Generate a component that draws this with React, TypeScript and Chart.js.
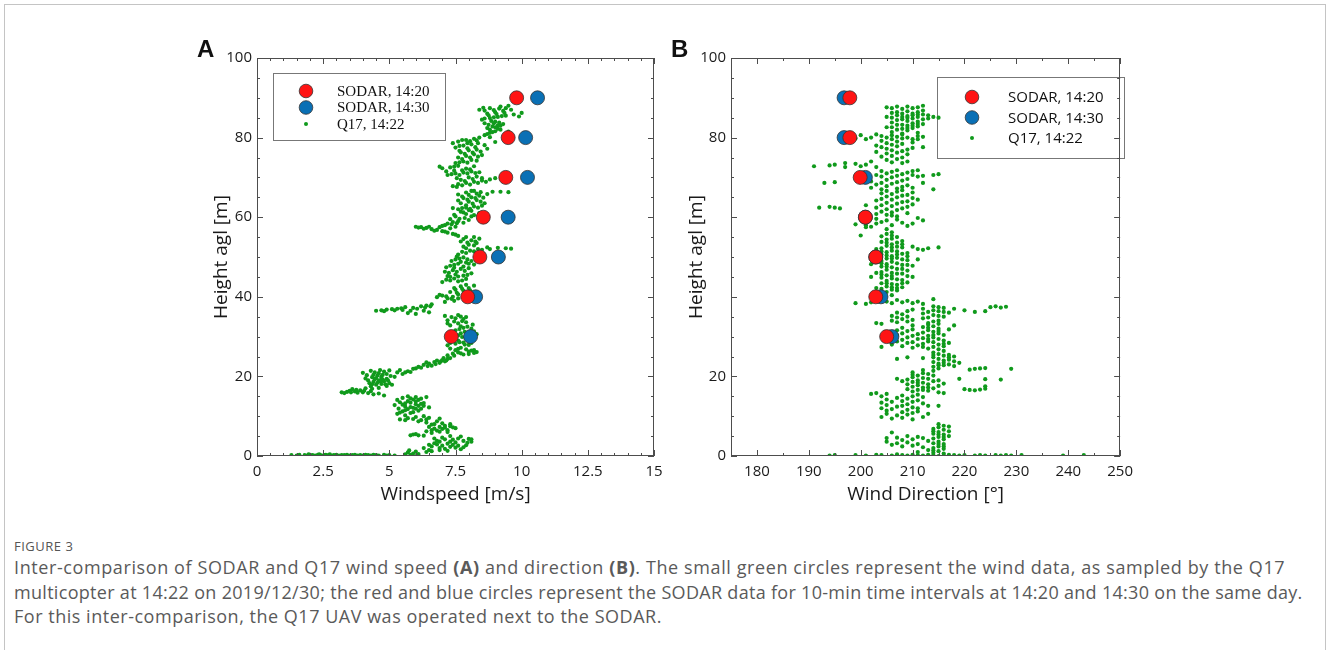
import React, { useEffect, useRef } from 'react';
import { Chart, registerables } from 'chart.js';

Chart.register(...registerables);

// SODAR 10-min averages at fixed range gates (m agl)
const sodarHeights = [30, 40, 50, 60, 70, 80, 90];
const sodarSpeed1420 = [7.34, 7.96, 8.42, 8.55, 9.4, 9.49, 9.81];
const sodarSpeed1430 = [8.07, 8.26, 9.12, 9.49, 10.22, 10.15, 10.6];
const sodarDir1420 = [205.0, 202.9, 202.9, 200.9, 199.9, 197.9, 197.9];
const sodarDir1430 = [206.0, 203.9, 202.9, 200.9, 200.9, 196.8, 196.8];

// Q17 multicopter samples: [wind speed m/s, height m]
const q17Speed: [number, number][] = [
  [1.3, 0.2], [1.5, 0.1], [1.6, 0.3], [1.8, 0.2], [1.9, 0.1], [2.0, 0.3], [2.1, 0.2], [2.2, 0.1], [2.3, 0.3],
  [2.4, 0.2], [2.5, 0.1], [2.6, 0.3], [2.7, 0.2], [2.8, 0.1], [2.9, 0.2], [3.0, 0.3], [3.1, 0.1], [3.2, 0.2],
  [3.4, 0.3], [3.5, 0.1], [3.6, 0.2], [3.7, 0.3], [3.8, 0.1], [3.9, 0.2], [4.0, 0.1], [4.1, 0.3], [4.2, 0.2],
  [4.3, 0.1], [4.5, 0.2], [4.6, 0.1], [4.8, 0.3], [5.0, 0.2], [5.2, 0.1],
  [1.95, 0.4], [2.15, 0.0], [2.35, 0.4], [2.55, 0.2], [2.75, 0.4], [2.95, 0.1], [3.3, 0.2], [4.4, 0.3], [4.9, 0.1],
  [5.6, 0.4], [5.7, 0.9], [5.8, 0.3], [5.9, 0.6], [6.0, 1.1], [6.1, 0.5], [5.75, 1.4], [6.05, 0.2],
  [6.5, 1.5], [6.6, 2.4], [6.8, 2.9], [6.9, 2.0], [7.0, 2.6], [7.1, 1.8], [7.3, 2.3], [7.5, 2.1], [7.6, 2.6],
  [7.8, 2.2], [6.7, 3.2], [6.9, 3.6], [7.2, 3.1], [7.4, 4.1], [7.6, 4.4], [7.8, 3.8], [8.0, 4.3], [8.1, 4.2],
  [7.0, 4.6], [7.3, 5.0], [6.4, 1.0], [6.3, 2.0], [7.5, 3.4], [7.7, 1.7],
  [6.6, 1.2], [6.9, 1.5], [7.2, 1.3], [7.4, 2.8], [7.9, 2.7], [6.8, 3.8], [7.1, 4.2], [7.7, 4.9], [6.5, 2.8],
  [7.3, 3.6], [7.95, 3.3], [6.7, 4.4], [8.1, 3.6],
  [5.8, 5.2], [5.9, 5.4], [6.1, 5.2], [6.3, 5.1], [6.6, 5.8], [6.8, 6.4], [7.0, 6.8], [7.2, 6.5], [6.9, 7.3],
  [7.1, 7.6], [7.3, 8.0], [7.4, 7.2], [6.6, 7.9], [6.4, 8.4], [6.8, 8.7], [6.2, 9.0], [5.9, 9.3], [5.6, 9.0],
  [5.4, 9.2], [6.5, 9.6], [6.3, 10.0], [6.0, 9.8], [7.2, 6.0], [6.7, 6.9], [7.5, 7.0],
  [6.0, 5.5], [6.4, 6.2], [6.6, 6.5], [6.9, 6.1], [7.1, 7.1], [6.5, 7.3], [7.0, 8.2], [6.7, 8.0], [6.1, 8.7],
  [5.7, 9.5], [6.4, 9.2], [6.9, 9.4], [7.3, 7.5],
  [5.3, 10.6], [5.5, 11.2], [5.7, 11.8], [5.6, 12.4], [5.9, 12.1], [6.1, 11.4], [5.8, 10.8], [6.0, 13.0],
  [5.4, 13.5], [5.7, 13.8], [5.9, 14.2], [6.2, 14.4], [6.0, 14.8], [5.5, 14.6], [6.3, 13.3], [5.2, 12.8],
  [6.4, 14.8], [5.6, 10.2], [6.1, 12.6], [5.8, 13.4], [6.2, 11.9], [5.35, 11.9], [6.5, 12.2],
  [5.4, 10.9], [5.6, 11.5], [5.9, 11.0], [6.0, 11.9], [5.5, 12.9], [5.8, 12.3], [6.2, 13.1], [5.6, 13.2],
  [6.0, 13.7], [5.3, 14.1], [5.8, 14.5], [6.1, 14.1], [6.3, 12.6], [5.7, 15.0],
  [3.2, 16.0], [3.4, 16.1], [3.5, 16.4], [3.7, 16.2], [3.8, 15.9], [3.9, 16.5], [4.0, 16.0], [4.2, 15.8],
  [4.3, 16.3], [4.1, 17.0], [3.6, 16.8], [4.4, 15.5], [4.8, 15.2],
  [3.3, 15.8], [3.55, 16.0], [3.75, 16.6], [4.05, 16.4], [4.35, 16.9], [4.6, 15.7],
  [4.3, 17.5], [4.5, 17.9], [4.7, 18.1], [4.9, 17.6], [4.4, 18.6], [4.6, 19.0], [4.8, 18.8], [5.0, 18.3],
  [4.5, 19.6], [4.7, 20.0], [4.9, 19.4], [4.2, 19.0], [4.4, 20.4], [4.6, 20.8], [4.8, 21.2], [4.3, 21.4],
  [5.1, 17.9], [4.0, 20.9], [4.9, 20.6], [5.0, 21.5], [4.6, 17.1], [4.25, 18.3], [4.75, 19.2], [5.2, 19.9],
  [4.35, 18.0], [4.55, 18.4], [4.65, 18.8], [4.85, 18.0], [4.45, 19.3], [4.55, 20.2], [4.7, 19.6], [4.95, 19.0],
  [4.35, 19.8], [4.15, 20.3], [4.75, 20.4], [5.05, 20.1], [4.45, 21.0], [4.65, 21.6], [4.1, 19.5],
  [5.3, 21.0], [5.5, 20.6], [5.7, 21.3], [5.9, 21.9], [6.1, 22.4], [5.4, 21.6], [5.8, 21.1], [6.2, 22.2],
  [5.6, 21.0], [6.0, 22.0], [6.45, 22.6], [6.75, 23.1], [6.95, 23.8], [7.15, 24.0], [7.05, 24.6],
  [6.3, 22.9], [6.5, 23.2], [6.7, 23.6], [6.9, 23.4], [7.0, 24.1], [7.2, 24.4], [6.6, 22.7], [6.8, 24.0],
  [7.1, 23.8], [7.3, 24.6], [6.4, 23.5],
  [7.2, 25.3], [7.4, 25.7], [7.6, 26.0], [7.8, 25.5], [8.0, 26.2], [8.2, 25.9], [8.3, 26.1], [7.5, 26.6],
  [7.9, 26.8], [8.1, 26.5], [7.3, 27.0], [7.7, 27.2],
  [7.45, 25.2], [7.7, 25.8], [8.0, 25.6], [8.2, 26.6], [7.6, 26.9],
  [7.2, 27.8], [7.5, 28.2], [7.8, 28.5], [8.0, 27.9], [7.6, 29.0], [7.9, 29.4], [8.2, 29.8], [7.4, 30.4],
  [7.7, 30.8], [8.0, 31.0], [8.3, 30.6], [7.5, 31.6], [7.8, 32.2], [8.1, 32.0], [7.3, 32.8], [7.6, 33.3],
  [7.9, 33.6], [7.2, 34.1], [7.5, 34.6], [7.8, 34.4], [7.1, 35.2], [7.7, 35.0], [8.0, 28.9], [7.35, 29.3],
  [7.95, 30.2], [7.65, 31.9], [8.15, 33.0],
  [7.3, 28.4], [7.65, 28.6], [7.85, 28.0], [8.1, 28.4], [7.45, 29.6], [7.75, 29.9], [8.05, 29.6], [7.6, 30.3],
  [7.85, 31.2], [8.2, 31.3], [7.4, 31.2], [7.7, 32.6], [7.95, 32.5], [7.45, 33.8], [7.75, 33.9], [7.35, 34.9],
  [7.6, 35.4], [7.9, 34.9], [7.2, 33.3],
  [4.5, 36.5], [4.7, 36.6], [4.9, 36.8], [5.1, 36.9], [5.3, 37.0], [5.5, 36.7], [5.7, 35.9], [5.9, 37.2],
  [6.0, 35.7], [6.2, 37.6], [6.4, 37.8], [6.5, 36.1], [6.6, 38.1], [5.6, 37.4], [6.3, 36.5],
  [4.8, 36.4], [5.2, 36.6], [5.45, 37.1], [5.8, 36.5], [6.05, 37.0], [6.35, 37.3], [6.55, 37.6],
  [6.8, 39.9], [7.0, 40.3], [7.2, 39.6], [7.4, 40.0], [7.6, 40.6], [7.3, 41.2], [7.5, 41.8], [7.8, 41.5],
  [8.0, 42.2], [8.2, 42.8], [7.7, 42.6], [7.1, 38.7], [7.9, 39.0], [8.4, 40.3], [7.45, 39.0],
  [6.9, 40.5], [7.15, 40.1], [7.35, 39.5], [7.6, 39.6], [7.8, 40.2], [7.55, 41.0], [7.9, 41.0], [7.45, 42.2],
  [7.75, 42.0], [8.05, 41.6], [7.9, 43.0],
  [7.0, 43.7], [7.3, 44.1], [7.6, 43.9], [7.9, 44.5], [7.2, 45.2], [7.5, 45.6], [7.8, 45.3], [8.1, 45.9],
  [7.4, 46.7], [7.7, 47.0], [8.0, 47.2], [7.3, 47.8], [7.6, 48.3], [7.9, 48.6], [8.1, 49.0], [7.5, 49.4],
  [7.8, 49.9], [7.1, 46.3], [8.2, 48.1],
  [7.15, 44.3], [7.45, 44.6], [7.75, 44.1], [7.3, 45.0], [7.6, 45.1], [7.95, 45.5], [7.25, 46.0], [7.55, 46.3],
  [7.85, 46.5], [7.45, 47.3], [7.8, 47.6], [7.15, 47.4], [7.45, 48.0], [7.7, 48.8], [8.0, 48.3], [7.35, 49.0],
  [7.65, 49.6], [7.95, 49.4], [7.55, 50.1],
  [7.6, 50.6], [7.9, 51.0], [8.2, 51.4], [8.5, 51.8], [8.8, 52.0], [9.1, 52.3], [9.4, 52.2], [9.6, 52.1],
  [7.8, 52.6], [8.0, 53.1], [8.3, 53.5], [7.7, 53.9], [8.1, 54.2], [8.4, 54.6], [7.9, 55.0], [8.7, 52.4],
  [7.75, 51.3], [8.05, 51.6], [8.35, 52.0], [7.9, 52.2], [8.2, 52.9], [7.95, 53.6], [8.25, 53.9], [7.8, 54.5],
  [8.2, 55.0],
  [7.6, 55.3], [7.4, 55.8], [7.2, 56.1], [7.0, 56.5], [6.8, 56.8], [6.6, 57.0], [6.4, 57.3], [6.2, 57.5],
  [6.0, 57.6], [6.1, 57.4], [6.9, 57.5], [7.3, 57.2], [7.1, 58.0],
  [7.5, 55.6], [7.1, 56.4], [6.7, 56.6], [6.3, 57.1], [6.5, 57.6], [7.0, 57.8], [7.5, 57.6],
  [7.2, 58.4], [7.4, 58.8], [7.6, 59.0], [7.8, 58.6], [7.3, 59.5], [8.0, 59.3], [7.5, 60.2], [7.9, 60.8],
  [8.2, 60.5], [7.7, 61.4], [8.4, 61.0],
  [7.35, 58.2], [7.55, 58.5], [7.65, 59.6], [7.85, 59.8], [8.1, 60.2], [7.45, 60.6], [7.8, 61.2], [8.1, 61.6],
  [7.6, 62.0], [7.9, 62.4], [8.2, 62.7], [8.5, 62.9], [7.7, 63.5], [8.0, 63.9], [8.3, 64.3], [7.8, 64.8],
  [8.1, 65.0], [8.4, 65.4], [8.7, 65.8], [7.6, 65.7], [7.9, 66.2], [8.2, 66.6], [8.9, 66.4], [9.5, 66.3],
  [7.4, 62.3], [8.6, 63.5], [8.0, 61.8],
  [7.75, 62.3], [8.05, 62.1], [8.35, 62.4], [7.9, 63.0], [8.15, 63.4], [8.45, 63.9], [7.6, 64.2], [7.95, 64.4],
  [8.25, 64.8], [8.55, 64.9], [7.75, 65.2], [8.0, 65.6], [8.3, 65.9], [8.1, 66.6], [8.45, 66.3], [9.2, 66.4],
  [7.4, 67.8], [7.6, 68.3], [7.9, 68.6], [8.2, 68.9], [8.5, 69.2], [8.8, 69.5], [9.0, 69.8], [7.7, 69.4],
  [8.0, 70.0], [8.3, 70.2], [9.3, 70.3],
  [7.55, 67.6], [7.75, 68.0], [8.05, 68.2], [8.35, 68.6], [8.65, 68.9], [7.85, 69.1], [8.15, 69.6], [8.5, 69.8],
  [7.55, 69.8],
  [7.2, 70.6], [7.5, 71.0], [7.8, 71.2], [8.1, 71.5], [8.4, 71.3], [7.0, 72.3], [6.9, 72.7], [7.3, 72.5],
  [7.6, 72.9], [7.9, 72.2], [8.2, 72.8],
  [7.35, 70.8], [7.65, 70.6], [7.95, 71.0], [8.25, 71.1], [7.45, 71.7], [7.75, 71.8], [8.05, 72.0], [7.15, 71.5],
  [7.45, 72.7],
  [7.5, 73.6], [7.8, 74.0], [8.1, 74.4], [7.6, 75.0], [7.9, 75.4], [8.2, 75.8], [8.5, 75.6], [7.7, 76.3],
  [8.0, 76.8], [8.3, 77.0], [7.5, 77.5], [7.8, 78.0], [8.1, 78.3], [8.6, 78.1], [7.6, 79.0], [7.9, 79.4],
  [8.2, 79.7], [8.4, 80.0], [8.8, 80.1], [9.0, 78.9], [8.7, 77.2], [7.4, 78.6],
  [7.65, 73.8], [7.95, 73.7], [8.3, 74.2], [7.75, 74.6], [8.05, 75.0], [8.35, 75.2], [7.85, 75.9], [8.15, 76.2],
  [8.45, 76.5], [7.65, 76.7], [7.95, 77.3], [8.25, 77.6], [7.65, 77.9], [7.95, 78.6], [8.35, 78.6], [7.75, 79.4],
  [8.05, 79.1], [8.3, 79.3],
  [8.6, 80.6], [8.8, 81.2], [9.0, 81.6], [9.2, 82.0], [8.7, 82.4], [8.9, 82.8], [9.1, 83.1], [9.3, 83.4],
  [8.6, 83.6], [9.0, 84.0], [9.4, 80.6], [9.5, 81.5],
  [8.7, 80.9], [8.9, 81.4], [9.1, 82.2], [8.8, 82.0], [9.0, 82.6], [9.2, 83.0], [8.75, 83.2], [8.95, 83.6],
  [9.15, 83.8], [8.85, 84.2],
  [8.5, 84.5], [8.8, 84.9], [9.1, 85.2], [9.4, 85.5], [9.7, 85.8], [9.9, 85.3], [8.7, 86.0], [9.0, 86.4],
  [9.3, 86.7], [9.6, 87.0], [8.4, 87.0], [8.8, 87.4], [9.2, 87.8], [9.5, 88.0], [8.6, 86.8], [10.0, 86.2],
  [8.6, 84.8], [8.95, 85.1], [9.25, 85.4], [8.75, 85.6], [9.05, 85.9], [9.35, 86.2], [8.95, 86.9], [9.15, 87.3],
  [9.4, 87.4], [8.55, 87.5],
];

// Q17 multicopter samples: [wind direction deg, height m]
const q17Direction: [number, number][] = [
  [194, 0.1], [195, 0.2], [199, 0.2], [201, 0.1], [203, 0.3], [204, 0.2], [206, 0.1], [207, 0.4], [208, 0.2],
  [209, 0.1], [210, 0.3], [211, 0.2], [212, 0.1], [213, 0.3], [214, 0.2], [216, 0.1], [217, 0.3], [218, 0.2],
  [219, 0.1], [220, 0.2], [222, 0.1], [223, 0.2], [224, 0.1], [226, 0.2], [227, 0.1], [228, 0.2], [229, 0.1],
  [231, 0.2], [239, 0.1], [243, 0.2],
  [214, 0.8], [214, 2.0], [214, 3.2], [214, 4.4], [214, 5.6], [214, 6.8],
  [215, 1.2], [215, 2.4], [215, 3.6], [215, 4.8], [215, 6.0], [215, 7.2], [215, 8.0],
  [216, 0.6], [216, 1.8], [216, 3.0], [216, 4.2], [216, 5.4], [216, 6.6], [216, 7.6],
  [217, 5.0], [217, 6.2], [217, 7.4], [213, 1.5], [213, 3.8], [212, 4.5], [212, 2.2],
  [215, 0.0], [214, 1.4], [215, 3.0], [216, 2.4], [215, 5.4], [214, 6.2], [216, 4.8],
  [211, 1.0], [211, 3.0], [211, 4.8], [210, 2.6], [210, 4.2], [209, 3.4], [209, 5.0], [208, 2.4], [208, 4.0],
  [207, 3.2], [207, 4.6], [206, 2.8], [205, 3.6], [205, 4.5], [206, 5.9],
  [204, 9.8], [204, 12.0], [204, 13.4], [204, 15.0],
  [205, 10.6], [205, 11.4], [205, 12.8], [205, 14.2], [205, 15.6],
  [206, 9.4], [206, 11.8], [206, 13.6],
  [207, 10.2], [207, 12.4], [207, 14.6],
  [208, 9.6], [208, 11.0], [208, 12.6], [208, 13.8], [208, 15.2],
  [209, 10.4], [209, 11.6], [209, 13.0], [209, 14.4],
  [210, 9.2], [210, 10.8], [210, 12.2], [210, 13.6], [210, 15.0],
  [211, 11.2], [211, 12.0], [211, 14.0], [211, 15.4],
  [212, 9.8], [212, 13.2], [212, 14.8], [213, 12.6], [213, 10.6], [215, 12.6],
  [202, 15.6], [203, 15.8],
  [209, 16.8], [209, 18.0], [209, 19.2],
  [210, 16.2], [210, 17.4], [210, 18.6], [210, 19.8], [210, 21.0],
  [211, 16.6], [211, 17.8], [211, 19.0], [211, 20.2],
  [212, 17.2], [212, 18.4], [212, 19.6], [212, 20.8], [212, 21.6],
  [213, 16.4], [213, 18.0], [213, 19.4], [213, 20.6],
  [214, 17.0], [214, 18.8], [214, 20.2], [214, 21.4],
  [215, 16.0], [215, 17.6], [215, 19.0], [216, 15.8], [216, 18.2],
  [211, 18.4], [212, 16.6], [213, 17.2], [210, 20.4],
  [207, 19.4], [208, 18.8], [219, 19.4],
  [220, 16.8], [221, 16.6], [222, 16.5], [223, 16.7], [224, 16.9], [224, 17.5],
  [224, 19.3], [227, 19.2],
  [221, 21.7], [222, 21.9], [223, 22.0], [224, 22.1], [229, 21.9],
  [214, 22.4], [214, 23.6], [214, 24.8], [214, 26.0],
  [215, 22.0], [215, 23.2], [215, 24.4], [215, 25.6],
  [216, 22.8], [216, 24.0], [216, 25.2], [216, 26.4],
  [217, 23.0], [217, 24.2], [217, 25.4],
  [218, 22.6], [218, 23.8], [218, 25.0], [219, 23.4],
  [216, 23.4], [215, 22.8], [217, 24.8], [214, 25.4],
  [212, 24.6], [209, 24.8], [207, 24.4], [204, 27.4], [206, 28.0],
  [206, 29.6], [206, 31.0],
  [207, 28.8], [207, 30.4], [207, 31.6],
  [208, 27.6], [208, 29.2], [208, 30.8], [208, 32.2],
  [209, 28.4], [209, 29.8], [209, 31.4],
  [210, 27.2], [210, 28.6], [210, 30.2], [210, 31.8], [210, 32.8],
  [211, 27.8], [211, 29.4], [211, 30.6],
  [212, 28.2], [212, 29.6], [212, 31.0], [212, 32.4],
  [213, 27.0], [213, 28.8], [213, 30.2], [213, 31.6], [213, 33.0],
  [214, 27.4], [214, 28.6], [214, 29.8], [214, 31.2], [214, 32.6],
  [215, 26.8], [215, 28.0], [215, 29.4], [215, 30.8], [215, 32.0],
  [216, 27.6], [216, 29.0], [216, 30.4], [217, 28.4], [217, 31.8], [218, 32.8],
  [213, 29.4], [214, 30.4], [215, 31.4], [216, 28.2], [214, 33.8], [215, 33.2], [212, 27.4], [213, 32.2],
  [203, 33.4], [204, 33.2],
  [206, 34.0], [206, 35.2], [207, 33.6], [207, 34.8], [207, 36.0], [208, 34.4], [208, 35.6],
  [209, 33.8], [209, 35.0], [209, 36.4], [210, 34.2], [210, 36.8],
  [212, 34.6], [212, 35.8], [212, 37.0], [213, 33.4], [213, 34.8], [213, 36.2],
  [214, 35.4], [214, 36.6], [214, 37.6], [215, 34.0], [215, 35.2], [215, 36.4], [215, 37.4],
  [216, 35.0], [216, 36.2], [216, 37.2], [217, 36.0],
  [218, 37.0], [220, 36.6], [222, 36.2], [224, 36.4], [225, 37.4], [226, 37.6], [227, 37.3], [228, 37.5],
  [199, 38.4], [201, 38.2], [202, 38.6], [203, 39.0], [205, 38.8], [206, 38.4], [207, 39.2], [208, 38.6],
  [209, 39.0], [210, 38.4], [211, 38.8], [212, 38.2], [214, 39.4],
  [203, 42.2], [203, 46.0], [203, 52.0],
  [204, 40.6], [204, 42.0], [204, 43.4], [204, 44.8], [204, 46.2], [204, 47.6], [204, 49.0], [204, 50.6],
  [204, 52.2], [204, 53.8], [204, 55.2],
  [205, 41.2], [205, 42.6], [205, 44.0], [205, 45.4], [205, 46.8], [205, 48.2], [205, 49.6], [205, 51.2],
  [205, 52.8], [205, 54.4], [205, 55.8], [205, 57.0],
  [206, 40.4], [206, 41.8], [206, 43.2], [206, 44.6], [206, 46.0], [206, 47.4], [206, 48.8], [206, 50.2],
  [206, 51.6], [206, 53.2], [206, 54.6], [206, 56.2],
  [207, 41.6], [207, 43.0], [207, 44.4], [207, 47.0], [207, 48.4], [207, 49.8], [207, 51.4], [207, 53.6],
  [207, 55.0],
  [208, 42.4], [208, 44.2], [208, 45.8], [208, 48.0], [208, 50.8], [208, 52.4], [208, 54.0],
  [209, 43.6], [209, 46.6], [209, 49.2], [209, 51.0],
  [204, 41.4], [204, 45.6], [204, 48.4], [204, 51.4], [205, 43.4], [205, 47.6], [205, 50.4], [205, 53.6],
  [206, 42.4], [206, 45.2], [206, 49.6], [206, 52.4], [206, 55.4], [207, 42.2], [207, 45.8], [207, 50.6],
  [207, 52.6], [208, 43.4], [208, 47.0], [208, 49.4], [208, 53.2], [209, 45.2], [209, 48.0], [209, 50.2],
  [210, 45.0], [210, 47.8], [210, 52.6], [211, 52.0], [211, 49.4], [212, 51.8], [213, 52.2], [215, 52.4],
  [200, 55.4], [201, 57.5], [202, 48.2], [202, 45.0],
  [199, 58.2], [201, 58.0], [202, 57.6], [203, 58.4], [203, 59.6], [204, 58.8], [205, 59.2], [206, 58.0],
  [206, 60.4], [207, 59.4], [208, 58.6], [209, 57.8], [210, 58.4], [211, 59.8], [212, 59.2],
  [203, 60.8], [203, 62.4], [203, 64.2],
  [204, 61.4], [204, 63.0], [204, 64.6], [204, 66.0],
  [205, 60.6], [205, 62.0], [205, 63.6], [205, 65.2], [205, 66.6],
  [206, 61.2], [206, 62.8], [206, 64.4], [206, 65.8],
  [207, 60.2], [207, 61.8], [207, 63.4], [207, 65.0], [207, 66.4],
  [208, 62.2], [208, 63.8], [208, 65.4], [208, 66.8],
  [209, 61.0], [209, 62.6], [209, 64.0], [209, 65.6],
  [210, 63.2], [210, 64.8], [210, 66.2], [211, 64.4], [201, 63.0],
  [192, 62.4], [194, 62.6], [195, 62.4], [196, 62.2],
  [202, 67.4], [202, 69.0], [203, 68.2], [203, 70.6],
  [204, 67.0], [204, 68.6], [204, 70.2], [204, 71.6],
  [205, 67.8], [205, 69.4], [205, 71.0],
  [206, 68.4], [206, 70.0], [206, 71.4],
  [207, 67.2], [207, 68.8], [207, 70.4], [207, 71.8],
  [208, 67.6], [208, 69.2], [208, 70.8],
  [209, 68.0], [209, 69.6], [209, 71.2],
  [210, 67.4], [210, 70.6], [210, 71.6], [211, 70.2], [211, 71.8], [212, 70.4], [212, 68.6],
  [214, 70.6], [215, 70.8], [214, 67.0],
  [193, 68.6], [195, 68.8],
  [191, 72.8], [194, 73.0], [195, 73.2], [197, 72.6], [197, 73.6], [199, 73.4], [200, 72.8], [201, 73.2],
  [202, 74.0], [203, 72.6],
  [203, 76.4], [203, 78.0],
  [204, 75.2], [204, 77.6], [204, 79.2],
  [205, 74.4], [205, 76.0], [205, 77.2], [205, 78.6],
  [206, 73.8], [206, 75.4], [206, 76.8], [206, 78.2], [206, 79.6],
  [207, 74.6], [207, 76.2], [207, 77.8], [207, 79.0],
  [208, 73.6], [208, 75.0], [208, 76.6], [208, 78.4], [208, 79.8],
  [209, 74.0], [209, 75.8], [209, 77.0], [210, 77.4], [210, 78.8], [211, 79.6], [212, 77.6],
  [196, 80.2], [198, 80.4], [199, 79.8], [200, 80.6], [201, 79.6], [202, 80.0], [203, 80.8], [204, 80.4],
  [205, 80.0], [206, 80.6], [207, 80.2], [208, 80.8], [209, 80.0], [210, 79.6], [211, 80.4], [212, 80.2],
  [205, 82.6], [205, 85.2], [205, 87.6],
  [206, 81.4], [206, 83.8], [206, 86.2], [206, 87.4],
  [207, 82.0], [207, 84.4], [207, 85.6], [207, 87.8],
  [208, 81.0], [208, 83.2], [208, 84.6], [208, 86.0], [208, 87.2],
  [209, 81.8], [209, 83.0], [209, 84.2], [209, 85.4], [209, 86.6], [209, 87.8],
  [210, 82.4], [210, 83.6], [210, 84.8], [210, 86.0], [210, 87.4],
  [211, 81.2], [211, 82.8], [211, 84.0], [211, 85.2], [211, 86.4], [211, 87.6],
  [212, 83.4], [212, 85.8], [212, 88.0], [213, 84.8], [213, 85.6], [214, 85.2], [215, 85.0],
  [209, 82.4], [209, 85.0], [210, 83.0], [210, 85.6], [211, 83.4], [211, 85.8], [212, 84.6], [212, 86.8],
  [208, 82.2], [208, 85.2], [207, 83.2], [207, 86.4], [206, 82.6], [206, 85.0],
];

// Axis tick labels
const speedTicks = [0, 2.5, 5, 7.5, 10, 12.5, 15];
const speedHeightTicks = [0, 20, 40, 60, 80, 100];
const dirTicks = [180, 190, 200, 210, 220, 230, 240, 250];
const dirHeightTicks = [0, 20, 80, 100];

const legendLabels = ['SODAR, 14:20', 'SODAR, 14:30', 'Q17, 14:22'];

const RED = '#ff1414';
const BLUE = '#0a70b5';
const GREEN = '#109a1c';
const SANS = '"Open Sans", "Noto Sans", sans-serif';

// Frame with inward ticks on all four sides
const framePlugin = {
  id: 'panelFrame',
  afterDatasetsDraw(chart: any, _args: any, opts: any) {
    const { ctx, chartArea: a, scales } = chart;
    const x = scales.x;
    const y = scales.y;
    ctx.save();
    ctx.strokeStyle = '#4d4d4d';
    ctx.lineWidth = 1;
    ctx.strokeRect(Math.round(a.left) + 0.5, Math.round(a.top) + 0.5, Math.round(a.width) - 1, Math.round(a.height) - 1);
    ctx.beginPath();
    const near = (v: number, step: number) => Math.abs(v / step - Math.round(v / step)) < 1e-6;
    for (let v = x.min; v <= x.max + 1e-9; v += opts.xMinor) {
      const px = Math.round(x.getPixelForValue(v)) + 0.5;
      const len = near(v, opts.xMajor) ? 6 : 3;
      ctx.moveTo(px, a.bottom);
      ctx.lineTo(px, a.bottom - len);
      ctx.moveTo(px, a.top);
      ctx.lineTo(px, a.top + len);
    }
    for (let v = y.min; v <= y.max + 1e-9; v += opts.yMinor) {
      const py = Math.round(y.getPixelForValue(v)) + 0.5;
      const len = near(v, opts.yMajor) ? 6 : 3;
      ctx.moveTo(a.left, py);
      ctx.lineTo(a.left + len, py);
      ctx.moveTo(a.right, py);
      ctx.lineTo(a.right - len, py);
    }
    ctx.stroke();
    ctx.restore();
  },
};

// Boxed legend placed inside the plot area, rows follow dataset order
const boxLegendPlugin = {
  id: 'boxLegend',
  beforeDatasetsDraw(chart: any, _args: any, opts: any) {
    const { ctx, chartArea: a } = chart;
    const [bx, by, bw, bh] = opts.box;
    ctx.save();
    ctx.fillStyle = '#ffffff';
    ctx.strokeStyle = '#777777';
    ctx.lineWidth = 1;
    ctx.fillRect(a.left + bx, a.top + by, bw, bh);
    ctx.strokeRect(Math.round(a.left + bx) + 0.5, Math.round(a.top + by) + 0.5, Math.round(bw), Math.round(bh));
    ctx.font = opts.font;
    ctx.textBaseline = 'middle';
    ctx.textAlign = 'left';
    chart.data.datasets.forEach((ds: any, row: number) => {
      const small = row === 2;
      const cy = a.top + opts.rows[row];
      const cx = a.left + opts.markerX;
      ctx.beginPath();
      ctx.arc(cx, cy, small ? 2 : 6.8, 0, Math.PI * 2);
      ctx.fillStyle = ds.backgroundColor;
      ctx.fill();
      if (!small) {
        ctx.lineWidth = 0.8;
        ctx.strokeStyle = '#333333';
        ctx.stroke();
      }
      ctx.fillStyle = '#111111';
      ctx.fillText(legendLabels[row], a.left + opts.textX, cy + 1);
    });
    ctx.restore();
  },
};

type PanelProps = {
  left: number;
  plotLeft: number;
  plotRight: number;
  yTitleX: number;
  xMin: number;
  xMax: number;
  xTicks: number[];
  yTicks: number[];
  xTitle: string;
  q17: [number, number][];
  sodar1420: number[];
  sodar1430: number[];
  frame: { xMinor: number; xMajor: number; yMinor: number; yMajor: number };
  legend: { box: number[]; markerX: number; textX: number; rows: number[]; font: string };
};

const TOP = 30;
const WIDTH = 520;
const HEIGHT = 490;
const PLOT_TOP = 58;
const PLOT_BOTTOM = 456;

function Panel(p: PanelProps) {
  const ref = useRef<HTMLCanvasElement | null>(null);
  useEffect(() => {
    if (!ref.current) return;
    const titleFont = { family: SANS, size: 19 };
    const titleLine = 19 * 1.2;
    const chart = new Chart(ref.current, {
      type: 'scatter',
      data: {
        datasets: [
          {
            label: legendLabels[0],
            data: sodarHeights.map((h, i) => ({ x: p.sodar1420[i], y: h })),
            backgroundColor: RED,
            borderColor: '#333333',
            borderWidth: 0.8,
            pointRadius: 7,
            pointHoverRadius: 7,
            order: 0,
          },
          {
            label: legendLabels[1],
            data: sodarHeights.map((h, i) => ({ x: p.sodar1430[i], y: h })),
            backgroundColor: BLUE,
            borderColor: '#333333',
            borderWidth: 0.8,
            pointRadius: 7,
            pointHoverRadius: 7,
            order: 1,
          },
          {
            label: legendLabels[2],
            data: p.q17.map(([v, h]) => ({ x: v, y: h })),
            backgroundColor: GREEN,
            borderWidth: 0,
            pointRadius: 2.1,
            pointHoverRadius: 2.1,
            order: 2,
          },
        ],
      },
      options: {
        responsive: false,
        animation: false,
        events: [],
        layout: {
          autoPadding: false,
          padding: { top: PLOT_TOP - TOP, right: p.left + WIDTH - p.plotRight, left: 0, bottom: 0 },
        },
        plugins: {
          legend: { display: false },
          tooltip: { enabled: false },
          panelFrame: p.frame,
          boxLegend: p.legend,
        } as any,
        scales: {
          x: {
            type: 'linear',
            min: p.xMin,
            max: p.xMax,
            grid: { display: false, drawTicks: false },
            border: { display: false },
            afterBuildTicks: (s: any) => {
              s.ticks = p.xTicks.map((v) => ({ value: v }));
            },
            afterFit: (s: any) => {
              s.height = TOP + HEIGHT - PLOT_BOTTOM;
            },
            ticks: {
              padding: 7,
              maxRotation: 0,
              autoSkip: false,
              color: '#1a1a1a',
              font: { family: SANS, size: 15 },
              callback: (v: any) => String(v),
            },
            title: {
              display: true,
              text: p.xTitle,
              color: '#1a1a1a',
              font: titleFont,
              padding: { top: 0, bottom: 25 - titleLine / 2 },
            },
          },
          y: {
            type: 'linear',
            min: 0,
            max: 100,
            grid: { display: false, drawTicks: false },
            border: { display: false },
            afterBuildTicks: (s: any) => {
              s.ticks = p.yTicks.map((v) => ({ value: v }));
            },
            afterFit: (s: any) => {
              s.width = p.plotLeft - p.left;
            },
            ticks: {
              padding: 5,
              autoSkip: false,
              color: '#1a1a1a',
              font: { family: SANS, size: 15 },
              callback: (v: any) => String(v),
            },
            title: {
              display: true,
              text: 'Height agl [m]',
              color: '#1a1a1a',
              font: titleFont,
              padding: { top: p.yTitleX - p.left - titleLine / 2, bottom: 0 },
            },
          },
        },
      },
      plugins: [boxLegendPlugin, framePlugin],
    });
    return () => chart.destroy();
  }, []);
  return (
    <canvas
      ref={ref}
      width={WIDTH}
      height={HEIGHT}
      style={{ position: 'absolute', left: p.left, top: TOP, width: WIDTH, height: HEIGHT }}
    />
  );
}

const captionLine: React.CSSProperties = {
  position: 'absolute',
  left: 14,
  fontFamily: SANS,
  fontSize: 18,
  lineHeight: '24px',
  color: '#5a5a5a',
  whiteSpace: 'nowrap',
};

export default function App() {
  const labelStyle: React.CSSProperties = {
    position: 'absolute',
    fontFamily: '"Liberation Sans", Arial, sans-serif',
    fontWeight: 700,
    fontSize: 24,
    lineHeight: '24px',
    color: '#111',
  };
  return (
    <div style={{ position: 'absolute', left: 0, top: 0, width: 1328, height: 650, overflow: 'hidden', background: '#fff' }}>
      <div
        style={{
          position: 'absolute',
          left: 4,
          top: 4,
          width: 1320,
          height: 700,
          border: '1.5px solid #c4c4c4',
        }}
      />
      <Panel
        left={150}
        plotLeft={257}
        plotRight={654}
        yTitleX={222}
        xMin={0}
        xMax={15}
        xTicks={speedTicks}
        yTicks={speedHeightTicks}
        xTitle="Windspeed [m/s]"
        q17={q17Speed}
        sodar1420={sodarSpeed1420}
        sodar1430={sodarSpeed1430}
        frame={{ xMinor: 0.5, xMajor: 2.5, yMinor: 5, yMajor: 20 }}
        legend={{ box: [16, 15, 172, 67], markerX: 49, textX: 80, rows: [33, 49.5, 66], font: '15px "Liberation Serif", "Times New Roman", serif' }}
      />
      <Panel
        left={620}
        plotLeft={731}
        plotRight={1128}
        yTitleX={697}
        xMin={175}
        xMax={250}
        xTicks={dirTicks}
        yTicks={dirHeightTicks}
        xTitle="Wind Direction [°]"
        q17={q17Direction}
        sodar1420={sodarDir1420}
        sodar1430={sodarDir1430}
        frame={{ xMinor: 5, xMajor: 10, yMinor: 5, yMajor: 20 }}
        legend={{ box: [206, 19, 187, 81], markerX: 241, textX: 277, rows: [39, 59.5, 80], font: '15px ' + SANS }}
      />
      <div style={{ ...labelStyle, left: 197, top: 37 }}>A</div>
      <div style={{ ...labelStyle, left: 671, top: 37 }}>B</div>
      <div
        style={{
          position: 'absolute',
          left: 14,
          top: 538,
          fontFamily: SANS,
          fontSize: 13,
          lineHeight: '16px',
          letterSpacing: '0.5px',
          color: '#555',
        }}
      >
        FIGURE 3
      </div>
      <div style={{ ...captionLine, top: 555, letterSpacing: '0.6px' }}>
        Inter-comparison of SODAR and Q17 wind speed <b>(A)</b> and direction <b>(B)</b>. The small green circles represent the wind data, as sampled by the Q17
      </div>
      <div style={{ ...captionLine, top: 579.5, letterSpacing: '0.3px' }}>
        multicopter at 14:22 on 2019/12/30; the red and blue circles represent the SODAR data for 10-min time intervals at 14:20 and 14:30 on the same day.
      </div>
      <div style={{ ...captionLine, top: 604, letterSpacing: '0.52px' }}>
        For this inter-comparison, the Q17 UAV was operated next to the SODAR.
      </div>
    </div>
  );
}
